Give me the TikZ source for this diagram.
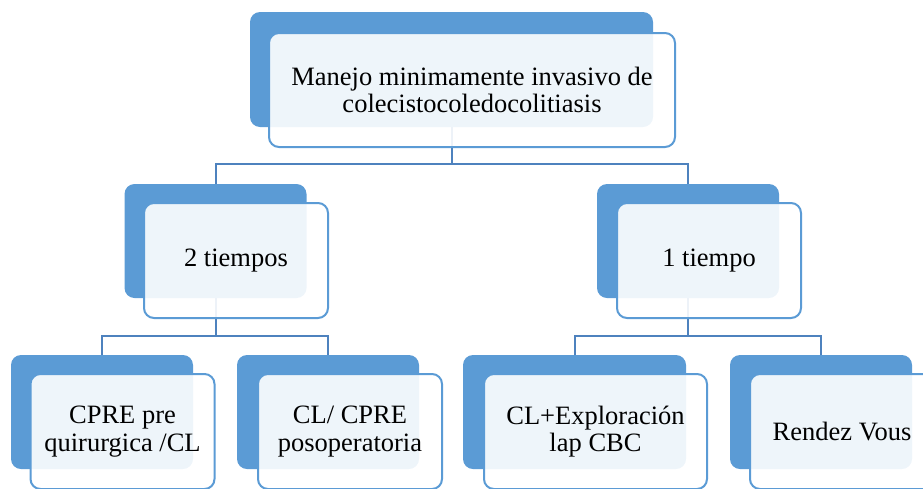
\documentclass[tikz,border=0pt]{standalone}
\usepackage{fontspec}
\setmainfont{Liberation Serif}
\definecolor{boxblue}{HTML}{5B9BD5}
\definecolor{linkblue}{HTML}{4E82BE}
\begin{document}
\begin{tikzpicture}[x=1pt,y=-1pt,
        backbox/.style={fill=boxblue,rounded corners=10pt,inner sep=0pt,minimum width=182pt,minimum height=114pt},
        frontbox/.style={draw=boxblue,line width=2pt,fill=white,fill opacity=0.9,text opacity=1,rounded corners=10pt,
            inner sep=0pt,minimum width=184pt,minimum height=115pt,align=center,
            font=\fontsize{26.5}{27.5}\selectfont},
        link/.style={draw=linkblue,line width=2pt}]
            \useasboundingbox (0,0) rectangle (923,488);

            % back boxes
            \node[backbox,minimum width=403pt,minimum height=115pt] at (451.5,69.5) (topB) {};
            \node[backbox] at (215.5,241) (tiempo2B) {};
            \node[backbox] at (688,241) (tiempo1B) {};
            \node[backbox] at (102,412) (cpreB) {};
            \node[backbox] at (328,412) (clcpreB) {};
            \node[backbox,minimum width=223pt] at (574.5,412) (explB) {};
            \node[backbox] at (821,412) (rendezB) {};

            % connectors
            \coordinate (bus1) at (451.5,164);
            \coordinate (bus2) at (215.5,336);
            \coordinate (bus3) at (688,336);
            \draw[link] (topB.south) -- (bus1) -| (tiempo2B.north);
            \draw[link] (bus1) -| (tiempo1B.north);
            \draw[link] (tiempo2B.south) -- (bus2) -| (cpreB.north);
            \draw[link] (bus2) -| (clcpreB.north);
            \draw[link] (tiempo1B.south) -- (bus3) -| (explB.north);
            \draw[link] (bus3) -| (rendezB.north);

            % front boxes
            \node[frontbox,minimum width=406pt,minimum height=114pt] at (472,90) (top)
                {Manejo minimamente invasivo de\\colecistocoledocolitiasis};
            \node[frontbox] at (236,260.5) (tiempo2) {2 tiempos};
            \node[frontbox] at (709,260.5) (tiempo1) {1 tiempo};
            \node[frontbox] at (122.5,431.5) (cpre) {CPRE pre\\quirurgica /CL};
            \node[frontbox] at (350,431.5) (clcpre) {CL/ CPRE\\posoperatoria};
            \node[frontbox,minimum width=223pt] at (595.5,431.5) (expl) {CL+Exploración\\lap CBC};
            \node[frontbox] at (842,431.5) (rendez) {Rendez Vous};
        \end{tikzpicture}
\end{document}
